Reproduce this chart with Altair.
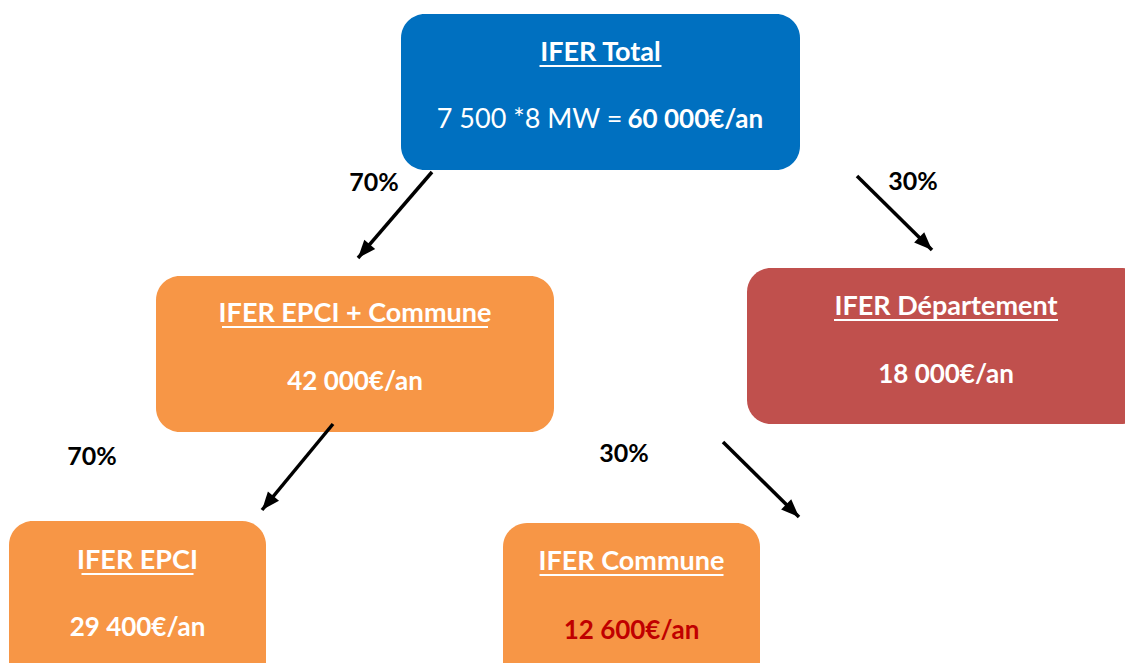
import altair as alt
import pandas as pd
import numpy as np

# ---- content ----
box_titles = ["IFER Total", "IFER EPCI + Commune", "IFER Département", "IFER EPCI", "IFER Commune"]
box_amounts = [60000, 42000, 18000, 29400, 12600]
box_colors = ["#0070C0", "#F79646", "#C0504D", "#F79646", "#F79646"]
amount_colors = ["#FFFFFF", "#FFFFFF", "#FFFFFF", "#FFFFFF", "#C00000"]
share_labels = ["70%", "30%", "70%", "30%"]
total_formula = "7 500 *8 MW ="

# ---- layout (page pixel coordinates) ----
box_x0 = [401, 156, 747, 9, 503]
box_x1 = [800, 554, 1145, 266, 760]
box_y0 = [14, 276, 268, 521, 523]
box_y1 = [170, 432, 424, 720, 720]
title_y = [53, 314, 307, 561, 562]
amount_y = [120, 382, 375, 628, 631]
underline_half = [61, 133, 112, 56, 92]

share_x = [374, 913, 92, 624]
share_y = [183, 182, 457, 454]

arrow_x0 = [432, 857, 333, 723]
arrow_y0 = [172, 176, 424, 442]
arrow_x1 = [358, 932, 262, 799]
arrow_y1 = [258, 250, 510, 517]

W, H = 1117, 655
FONT = "Lato"


def fmt(v):
    return f"{v:,}".replace(",", " ") + "€/an"


boxes = pd.DataFrame({
    "title": box_titles,
    "amount": [fmt(v) for v in box_amounts],
    "fill": box_colors,
    "acolor": amount_colors,
    "x0": box_x0, "x1": box_x1, "y0": box_y0, "y1": box_y1,
    "ty": title_y, "ay": amount_y,
})
boxes["cx"] = (boxes["x0"] + boxes["x1"]) / 2
boxes["ul0"] = boxes["cx"] - np.array(underline_half)
boxes["ul1"] = boxes["cx"] + np.array(underline_half)
boxes["uly"] = boxes["ty"] + 13

arrows = pd.DataFrame({"x0": arrow_x0, "y0": arrow_y0, "x1": arrow_x1, "y1": arrow_y1})
arrows["angle"] = np.mod(np.degrees(np.arctan2(arrows["x1"] - arrows["x0"],
                                               -(arrows["y1"] - arrows["y0"]))), 360)

shares = pd.DataFrame({"label": share_labels, "x": share_x, "y": share_y})

xs = alt.Scale(domain=[8, 8 + W], nice=False, zero=False)
ys = alt.Scale(domain=[8, 8 + H], nice=False, zero=False, reverse=True)
X = lambda f: alt.X(f, type="quantitative", scale=xs, axis=None)
Y = lambda f: alt.Y(f, type="quantitative", scale=ys, axis=None)

rects = alt.Chart(boxes).mark_rect(cornerRadius=24, clip=True).encode(
    x=X("x0"), x2="x1", y=Y("y0"), y2="y1",
    color=alt.Color("fill:N", scale=None),
)

titles = alt.Chart(boxes).mark_text(
    font=FONT, fontSize=27, fontWeight="bold", color="white", baseline="middle", align="center"
).encode(x=X("cx"), y=Y("ty"), text="title:N")

underlines = alt.Chart(boxes).mark_rule(color="white", strokeWidth=2).encode(
    x=X("ul0"), x2="ul1", y=Y("uly")
)

amount_rest = boxes.iloc[1:]
amounts = alt.Chart(amount_rest).mark_text(
    font=FONT, fontSize=26, fontWeight="bold", baseline="middle", align="center"
).encode(x=X("cx"), y=Y("ay"), text="amount:N", color=alt.Color("acolor:N", scale=None))

top = boxes.iloc[[0]].copy()
top["formula"] = total_formula
top["split"] = top["cx"] + 22
formula = alt.Chart(top).mark_text(
    font=FONT, fontSize=27, color="white", baseline="middle", align="right"
).encode(x=X("split"), y=Y("ay"), text="formula:N")
total_amt = alt.Chart(top).mark_text(
    font=FONT, fontSize=26, fontWeight="bold", color="white", baseline="middle", align="left", dx=5
).encode(x=X("split"), y=Y("ay"), text="amount:N")

share_text = alt.Chart(shares).mark_text(
    font=FONT, fontSize=25, fontWeight="bold", color="black", baseline="middle", align="center"
).encode(x=X("x"), y=Y("y"), text="label:N")

shafts = alt.Chart(arrows).mark_rule(color="black", strokeWidth=3.5).encode(
    x=X("x0"), x2="x1", y=Y("y0"), y2="y1"
)
heads = alt.Chart(arrows).mark_point(
    shape="M0,0L-0.8,2L0.8,2Z", size=324, filled=True, color="black", opacity=1
).encode(x=X("x1"), y=Y("y1"), angle=alt.Angle("angle:Q", scale=None))

chart = alt.layer(
    rects, underlines, titles, amounts, formula, total_amt, share_text, shafts, heads
).properties(width=W, height=H, padding=0).configure_view(stroke=None)

chart.save("out.html", embed_options={"renderer": "svg", "actions": False})
